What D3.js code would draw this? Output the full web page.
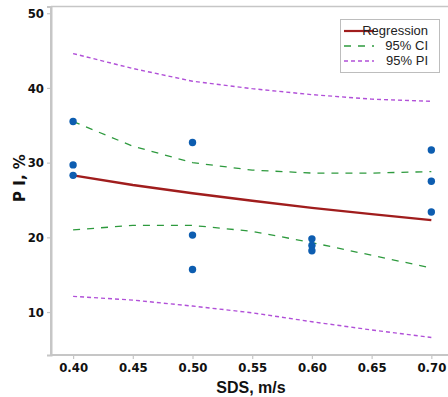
<!DOCTYPE html>
<html>
<head>
<meta charset="utf-8">
<script src="https://cdn.jsdelivr.net/npm/d3@7"></script>
<style>
  body { margin: 0; background: #fff; }
  svg { display: block; }
</style>
</head>
<body>
<svg id="svg" width="448" height="397"></svg>
<script>
// observed points
const obsX = [0.40, 0.40, 0.40, 0.50, 0.50, 0.50, 0.60, 0.60, 0.60, 0.70, 0.70, 0.70];
const obsY = [35.5, 29.7, 28.3, 32.7, 20.3, 15.7, 19.8, 18.9, 18.2, 31.7, 27.5, 23.4];

// fitted line and bands
const fitX = [0.40, 0.45, 0.50, 0.55, 0.60, 0.65, 0.70];
const regression = [28.3, 27.0, 25.9, 24.9, 23.95, 23.1, 22.3];
const ciUpper = [35.5, 32.2, 30.0, 29.0, 28.6, 28.6, 28.8];
const ciLower = [21.0, 21.6, 21.6, 20.8, 19.3, 17.6, 15.9];
const piUpper = [44.6, 42.6, 40.9, 39.9, 39.1, 38.5, 38.2];
const piLower = [12.1, 11.6, 10.8, 9.9, 8.7, 7.6, 6.6];

const xTicks = [0.40, 0.45, 0.50, 0.55, 0.60, 0.65, 0.70];
const yTicks = [10, 20, 30, 40, 50];

const legendLabels = ["Regression", "95% CI", "95% PI"];

const svg = d3.select('#svg');
const x = d3.scaleLinear().domain([0.3815, 0.724]).range([51, 460]);
const y = d3.scaleLinear().domain([4.25, 50.9]).range([355, 6.5]);

const axisColor = '#c6c6c6';
const tickFont = '"Liberation Sans Narrow", "DejaVu Sans Condensed", sans-serif';

// frame: left, top, bottom
svg.append('line').attr('x1', 51).attr('x2', 51).attr('y1', 6.5).attr('y2', 355)
  .attr('stroke', axisColor).attr('stroke-width', 2);
svg.append('line').attr('x1', 51).attr('x2', 448).attr('y1', 6.5).attr('y2', 6.5)
  .attr('stroke', axisColor).attr('stroke-width', 1.5);

const xAxis = svg.append('g').attr('transform', 'translate(0,355)')
  .call(d3.axisBottom(x).tickValues(xTicks).tickFormat(d3.format('.2f')).tickSize(4).tickPadding(4));
const yAxis = svg.append('g').attr('transform', 'translate(51,0)')
  .call(d3.axisLeft(y).tickValues(yTicks).tickSize(4).tickPadding(3));

[xAxis, yAxis].forEach(g => {
  g.select('.domain').attr('stroke', axisColor).attr('stroke-width', 2);
  g.selectAll('.tick line').attr('stroke', axisColor).attr('stroke-width', 1.2);
  g.selectAll('.tick text').attr('fill', '#111').style('font-family', tickFont)
    .style('font-weight', 'bold').style('font-size', '13px');
});
xAxis.select('.domain').attr('d', 'M51,0H448');

const line = d3.line().x((d, i) => x(fitX[i])).y(d => y(d));

svg.append('path').datum(piUpper).attr('d', line).attr('fill', 'none')
  .attr('stroke', '#b150d8').attr('stroke-width', 1.4).attr('stroke-dasharray', '4,3');
svg.append('path').datum(piLower).attr('d', line).attr('fill', 'none')
  .attr('stroke', '#b150d8').attr('stroke-width', 1.4).attr('stroke-dasharray', '4,3');
svg.append('path').datum(ciUpper).attr('d', line).attr('fill', 'none')
  .attr('stroke', '#2e9a3e').attr('stroke-width', 1.3).attr('stroke-dasharray', '7,7');
svg.append('path').datum(ciLower).attr('d', line).attr('fill', 'none')
  .attr('stroke', '#2e9a3e').attr('stroke-width', 1.3).attr('stroke-dasharray', '7,7');
svg.append('path').datum(regression).attr('d', line).attr('fill', 'none')
  .attr('stroke', '#a01d1d').attr('stroke-width', 2.4);

svg.append('g').selectAll('circle').data(obsY).enter().append('circle')
  .attr('cx', (d, i) => x(obsX[i])).attr('cy', d => y(d)).attr('r', 3.7)
  .attr('fill', '#0d5db0');

// axis titles
svg.append('text').attr('x', 251).attr('y', 393).attr('text-anchor', 'middle')
  .style('font-family', '"Liberation Sans Narrow", sans-serif').style('font-size', '16px')
  .style('font-weight', 'bold').attr('fill', '#111').text('SDS, m/s');
svg.append('text').attr('transform', 'translate(25,178) rotate(-90)').attr('text-anchor', 'middle')
  .style('font-family', '"DejaVu Sans", sans-serif').style('font-size', '15px')
  .style('font-weight', 'bold').attr('fill', '#111').text('P I, %');

// legend
const lg = svg.append('g');
lg.append('rect').attr('x', 340.5).attr('y', 19.5).attr('width', 99).attr('height', 53)
  .attr('fill', '#fff').attr('stroke', '#bdbdbd').attr('stroke-width', 1);
const legStyles = [
  { stroke: '#a01d1d', w: 2.2, dash: null },
  { stroke: '#2e9a3e', w: 1.3, dash: '7,7' },
  { stroke: '#b150d8', w: 1.3, dash: '4,3' }
];
legendLabels.forEach((lab, i) => {
  const yy = 31 + i * 15;
  const s = legStyles[i];
  lg.append('line').attr('x1', 344).attr('x2', 374).attr('y1', yy).attr('y2', yy)
    .attr('stroke', s.stroke).attr('stroke-width', s.w).attr('stroke-dasharray', s.dash);
  lg.append('text').attr('x', 428).attr('y', yy + 4).attr('text-anchor', 'end')
    .style('font-family', '"Liberation Sans Narrow", sans-serif').style('font-size', '13px')
    .attr('fill', '#222').text(lab);
});
</script>
</body>
</html>
